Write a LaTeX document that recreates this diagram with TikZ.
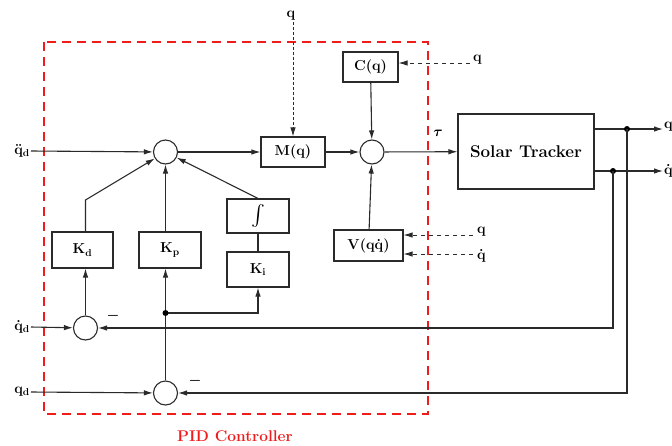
\documentclass[tikz,border=0pt]{standalone}
\usepackage{amsmath}
\usetikzlibrary{arrows.meta,calc}
\definecolor{lc}{HTML}{2A2A2A}
\definecolor{pidred}{HTML}{EE1C1C}
\begin{document}
\begin{tikzpicture}[x=1pt,y=-1pt,
  txt/.style={font=\fontsize{14.4}{17}\selectfont\bfseries\boldmath, inner sep=1pt, text=black},
  blk/.style={txt, draw=lc, line width=1.1pt, fill=white, inner sep=0pt},
  sum/.style={circle, draw=lc, line width=1.1pt, minimum size=24pt, inner sep=0pt},
  ln/.style={draw=lc, line width=1.1pt},
  arr/.style={ln, -{Latex[length=9pt,width=5.5pt]}},
  dsh/.style={arr, line width=0.9pt, dash pattern=on 4.5pt off 3.5pt},
  dshf/.style={arr, line width=0.9pt, dash pattern=on 3pt off 2pt},
  jdot/.style={circle, fill=black, inner sep=0pt, minimum size=6pt}
]
\useasboundingbox (0,0) rectangle (672,445);

% PID controller frame
\draw[pidred, line width=2.2pt, dash pattern=on 9pt off 6pt] (44,42) rectangle (428,414);
\node[txt, text=pidred, font=\fontsize{15.5}{18}\selectfont\bfseries] (pid) at (235,436) {PID Controller};

% summing junctions
\node[sum] (s1) at (165.5,152) {};
\node[sum] (s2) at (372,152) {};
\node[sum] (sd) at (85.5,328) {};
\node[sum] (sq) at (165.5,393) {};

% blocks
\node[blk, minimum width=64pt, minimum height=30pt] (M) at (293,152) {$\mathbf{M(q)}$};
\node[blk, minimum width=55pt, minimum height=30pt] (C) at (370.5,67) {$\mathbf{C(q)}$};
\node[blk, minimum width=136pt, minimum height=75pt, font=\fontsize{17}{19}\selectfont\bfseries] (ST) at (526,151.5) {Solar Tracker};
\node[blk, minimum width=62pt, minimum height=34pt, font=\fontsize{20.74}{22}\selectfont\boldmath] (I) at (258,216) {$\boldsymbol{\int}$};
\node[blk, minimum width=62pt, minimum height=35pt] (Ki) at (258,269.5) {$\mathbf{K}_{\mathbf{i}}$};
\node[blk, minimum width=61pt, minimum height=36pt] (Kd) at (82.5,250) {$\mathbf{K}_{\mathbf{d}}$};
\node[blk, minimum width=62pt, minimum height=36pt] (Kp) at (170,250) {$\mathbf{K}_{\mathbf{p}}$};
\node[blk, minimum width=69pt, minimum height=31pt] (V) at (368.5,245.5) {$\mathbf{V(q\dot{q})}$};

% labels
\node[txt, anchor=east] (qdd) at (31,151) {$\ddot{\mathbf{q}}_{\mathbf{d}}$};
\node[txt, anchor=east] (qd1) at (31,327) {$\dot{\mathbf{q}}_{\mathbf{d}}$};
\node[txt, anchor=east] (qd0) at (31,392) {$\mathbf{q}_{\mathbf{d}}$};
\node[txt] (qtop) at (291,16) {$\mathbf{q}$};
\node[txt, anchor=west] (qC) at (472,60) {$\mathbf{q}$};
\node[txt, anchor=west] (qV) at (476,232) {$\mathbf{q}$};
\node[txt, anchor=west] (qdV) at (476,256) {$\dot{\mathbf{q}}$};
\node[txt, anchor=west] (qo) at (663,127) {$\mathbf{q}$};
\node[txt, anchor=west] (qdo) at (663,171) {$\dot{\mathbf{q}}$};
\node[txt] (tau) at (438,133) {$\boldsymbol{\tau}$};
\node[txt] (m1) at (113,316) {$\boldsymbol{-}$};
\node[txt] (m2) at (195,381) {$\boldsymbol{-}$};

% coordinates
\coordinate (kdc) at (85.5,200);
\coordinate (d1) at (627,129);
\coordinate (d2) at (613,171);
\coordinate (db) at (165.5,313);
\coordinate (qCe) at (470,63);
\coordinate (qVe) at (473,235);
\coordinate (qdVe) at (473,254);
\coordinate (qoe) at (663,129);
\coordinate (qdoe) at (663,171);

% forward path
\draw[arr] (qdd.east) -- (s1);
\draw[arr] (s1) -- (M);
\draw[arr] (M) -- (s2);
\draw[arr] (s2) -- (ST);
\draw[arr] (C) -- (s2);
\draw[arr] (V) -- (s2);
\draw[dshf] (M.north |- qtop.south) -- (M.north);
\draw[dsh] (qCe) -- (qCe -| C.east);
\draw[dsh] (qVe) -- (qVe -| V.east);
\draw[dsh] (qdVe) -- (qdVe -| V.east);

% PID branches
\draw[arr] (Kd.north -| kdc) -- (kdc) -- (s1);
\draw[arr] (Kp.north -| s1) -- (s1);
\draw[arr] (I.north) -- (s1);
\draw[ln] (I.south) -- (Ki.north);
\draw[arr] (qd1.east) -- (sd);
\draw[arr] (sd) -- (sd |- Kd.south);
\draw[arr] (qd0.east) -- (sq);
\draw[arr] (sq) -- (sq |- Kp.south);
\draw[arr] (db) -| (Ki.south);
\node[jdot] at (db) {};

% outputs and feedback
\draw[arr] (qoe -| ST.east) -- (qoe);
\draw[arr] (qdoe -| ST.east) -- (qdoe);
\node[jdot] at (d1) {};
\node[jdot] at (d2) {};
\draw[arr] (d2) |- (sd);
\draw[arr] (d1) |- (sq);
\end{tikzpicture}
\end{document}
